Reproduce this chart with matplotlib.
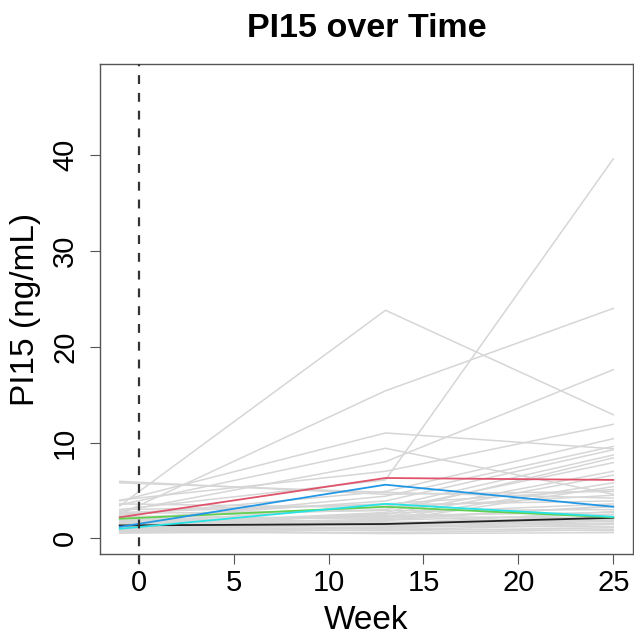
#!/usr/bin/env python3
"""Spaghetti plot of PI15 concentration over time, one line per subject."""

import matplotlib
matplotlib.use("Agg")
import matplotlib.pyplot as plt

plt.rcParams["font.family"] = ["Liberation Sans", "DejaVu Sans"]

WEEKS = [-1, 13, 25]

# background subjects (grey), value at each visit
GREY_WK_M1 = [3.4, 2.5, 3.0, 2.8, 3.9, 3.5, 4.0, 2.4, 1.8, 2.0, 1.6, 1.4, 2.2, 1.2,
              1.9, 1.5, 1.0, 5.95, 5.8, 3.0, 2.6, 1.7, 1.3, 0.9, 1.1, 0.8, 0.7, 0.55,
              1.0, 0.6, 0.8, 1.5, 2.1, 1.2, 2.3, 1.4, 0.9, 1.6, 3.6, 2.7, 1.8, 0.7]
GREY_WK13 = [23.8, 15.4, 6.1, 8.0, 11.0, 9.4, 7.0, 4.9, 4.4, 3.9, 3.3, 2.7, 3.0, 2.5,
             2.2, 2.0, 1.8, 4.6, 4.8, 3.5, 2.9, 2.4, 1.9, 1.6, 1.4, 1.2, 1.1, 0.9,
             0.8, 0.6, 0.5, 1.3, 1.7, 1.0, 2.1, 2.6, 1.5, 2.3, 3.2, 3.6, 1.4, 1.9]
GREY_WK25 = [12.9, 24.0, 39.6, 17.6, 9.35, 4.6, 11.9, 10.4, 9.6, 9.25, 8.7, 8.4, 7.9, 7.0,
             6.6, 5.8, 5.4, 4.9, 4.2, 3.9, 3.0, 2.7, 2.5, 2.3, 2.0, 1.8, 1.6, 1.45,
             1.1, 0.9, 0.6, 1.2, 1.5, 0.8, 3.3, 3.6, 2.8, 2.1, 4.5, 5.1, 1.9, 3.4]

# highlighted subjects
HIGHLIGHT_COLORS = ["#222222", "#DF536B", "#61D04F", "#2297E6", "#28E2E5"]
HIGHLIGHT_VALUES = [
    [1.35, 1.5, 2.15],
    [2.2, 6.3, 6.1],
    [2.05, 3.3, 2.2],
    [1.2, 5.6, 3.3],
    [1.0, 3.6, 2.25],
]

X_TICKS = [0, 5, 10, 15, 20, 25]
Y_TICKS = [0, 10, 20, 30, 40]

W, H = 634, 635


def main() -> None:
    fig = plt.figure(figsize=(W / 100, H / 100), dpi=100)
    ax = fig.add_axes([100 / W, 1 - 554 / H, 533 / W, 490 / H])

    for i in range(len(GREY_WK_M1)):
        ys = [GREY_WK_M1[i], GREY_WK13[i], GREY_WK25[i]]
        ax.plot(WEEKS, ys, color="#D6D6D6", linewidth=1.1, zorder=1)

    for color, ys in zip(HIGHLIGHT_COLORS, HIGHLIGHT_VALUES):
        ax.plot(WEEKS, ys, color=color, linewidth=1.3, zorder=2)

    ax.axvline(0, color="#333333", linewidth=1.6, linestyle=(0, (4, 4)),
               zorder=3, clip_on=False, ymin=-0.02)

    ax.set_xlim(-2.04, 26.04)
    ax.set_ylim(-1.63, 49.5)
    ax.set_xticks(X_TICKS)
    ax.set_yticks(Y_TICKS)
    ax.set_yticklabels([str(v) for v in Y_TICKS], rotation=90, va="center")

    for side in ax.spines.values():
        side.set_color("#555555")
        side.set_linewidth(1.0)
    ax.tick_params(axis="x", length=7, width=0.8, color="#555555", pad=4,
                   labelsize=21)
    ax.tick_params(axis="y", length=7, width=0.8, color="#555555", pad=8,
                   labelsize=21)

    fig.text(366.5 / W, 1 - 37 / H, "PI15 over Time", ha="center",
             va="baseline", fontsize=24.5, fontweight="bold")
    fig.text(366.5 / W, 1 - 629 / H, "Week", ha="center", va="baseline",
             fontsize=24)
    fig.text(26 / W, 1 - 309 / H, "PI15 (ng/mL)", ha="center", va="center",
             rotation=90, fontsize=24)

    fig.savefig("out.png", dpi=100)


if __name__ == "__main__":
    main()
